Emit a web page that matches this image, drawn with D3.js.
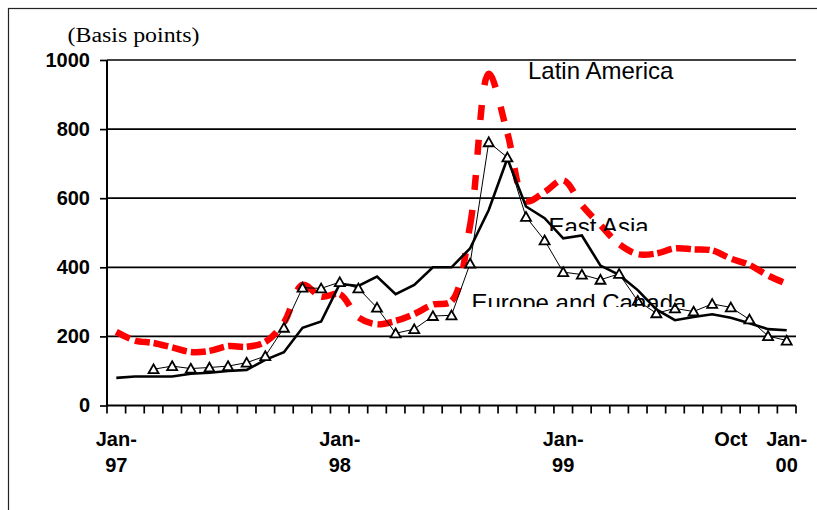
<!DOCTYPE html>
<html>
<head>
<meta charset="utf-8">
<script src="https://cdn.jsdelivr.net/npm/d3@7"></script>
<style>
  html, body { margin: 0; padding: 0; background: #fff; }
  svg { display: block; }
</style>
</head>
<body>
<svg id="chart" width="817" height="510"></svg>
<script>
const categories = ["Jan-97","Feb-97","Mar-97","Apr-97","May-97","Jun-97","Jul-97","Aug-97","Sep-97","Oct-97","Nov-97","Dec-97",
  "Jan-98","Feb-98","Mar-98","Apr-98","May-98","Jun-98","Jul-98","Aug-98","Sep-98","Oct-98","Nov-98","Dec-98",
  "Jan-99","Feb-99","Mar-99","Apr-99","May-99","Jun-99","Jul-99","Aug-99","Sep-99","Oct-99","Nov-99","Dec-99","Jan-00"];

const latinAmerica = [213,188,181,168,155,158,172,170,184,240,349,315,322,255,235,245,265,292,302,522,960,789,592,618,652,580,522,467,438,440,455,452,449,425,407,376,352];
const eastAsia = [80,84,84,84,92,95,100,103,132,154,225,243,352,346,373,322,349,400,400,455,566,715,576,542,484,492,405,378,334,278,247,256,264,254,238,221,218];
const europeCanada = [null,null,105,114,107,110,114,124,143,225,341,339,357,339,283,209,221,259,261,411,762,718,546,478,386,379,364,381,303,267,281,272,294,284,249,201,188];

const yTicks = [0,200,400,600,800,1000];
const tickCats = ["Jan-97","Jan-98","Jan-99","Oct-99","Jan-00"];
const tickLine1 = ["Jan-","Jan-","Jan-","Oct","Jan-"];
const tickLine2 = ["97","98","99","","00"];
const yUnit = "(Basis points)";
const seriesLabels = ["Latin America","East Asia","Europe and Canada"];

const svg = d3.select("#chart");
const pL = 107, pR = 796, pT = 60, pB = 405.5;

const x = d3.scaleBand().domain(categories).range([pL, pR]).padding(0);
const y = d3.scaleLinear().domain([0, 1000]).range([pB, pT]);
const cx = c => x(c) + x.bandwidth() / 2;

// outer frame
svg.append("rect").attr("x", 8.5).attr("y", 8.5).attr("width", 900).attr("height", 600)
  .attr("fill", "none").attr("stroke", "#222").attr("stroke-width", 1.2);

// gridlines
svg.append("g").selectAll("line").data(yTicks.filter(d => d > 0)).join("line")
  .attr("x1", pL).attr("x2", pR).attr("y1", d => y(d)).attr("y2", d => y(d))
  .attr("stroke", "#000").attr("stroke-width", 1.7);

// y axis
const yAxis = d3.axisLeft(y).tickValues(yTicks).tickSize(7).tickPadding(10).tickFormat(d3.format("d"));
const gy = svg.append("g").attr("transform", `translate(${pL},0)`).call(yAxis);
gy.select(".domain").attr("stroke", "#000").attr("stroke-width", 2).attr("d", `M0,${pB}V${pT}`);
gy.selectAll(".tick line").attr("stroke", "#000").attr("stroke-width", 1.7);
gy.selectAll(".tick text").attr("font-family", "'Liberation Sans', Arial, sans-serif")
  .attr("font-weight", "bold").attr("font-size", 20).attr("fill", "#000");

// x axis line and tick marks at category boundaries
const boundaries = categories.map(c => x(c)).concat([pR]);
svg.append("line").attr("x1", pL).attr("x2", pR).attr("y1", pB).attr("y2", pB)
  .attr("stroke", "#000").attr("stroke-width", 2);
svg.append("g").selectAll("line").data(boundaries).join("line")
  .attr("x1", d => d).attr("x2", d => d).attr("y1", pB).attr("y2", pB + 8)
  .attr("stroke", "#000").attr("stroke-width", 1.7);

// x labels
const xl = svg.append("g").attr("font-family", "'Liberation Sans', Arial, sans-serif")
  .attr("font-weight", "bold").attr("font-size", 20).attr("text-anchor", "middle");
tickCats.forEach((c, i) => {
  xl.append("text").attr("x", cx(c)).attr("y", 446).text(tickLine1[i]);
  if (tickLine2[i]) xl.append("text").attr("x", cx(c)).attr("y", 472).text(tickLine2[i]);
});

// unit label
svg.append("text").attr("x", 67.5).attr("y", 41.5)
  .attr("font-family", "'Liberation Serif', 'Times New Roman', serif").attr("font-size", 20)
  .attr("textLength", 132).attr("lengthAdjust", "spacingAndGlyphs").text(yUnit);

// Latin America (red dashed smooth), dash pattern restarting at each data point
const lineSmooth = d3.line().x((d, i) => cx(categories[i])).y(d => y(d)).curve(d3.curveCatmullRom.alpha(0.5));
const red = svg.append("path").datum(latinAmerica).attr("d", lineSmooth)
  .attr("fill", "none").attr("stroke", "#ff0000").attr("stroke-width", 6.5);
(function () {
  const node = red.node();
  const total = node.getTotalLength();
  const lenAtX = px => {
    let lo = 0, hi = total;
    for (let k = 0; k < 40; k++) {
      const mid = (lo + hi) / 2;
      if (node.getPointAtLength(mid).x < px) lo = mid; else hi = mid;
    }
    return (lo + hi) / 2;
  };
  const Ls = categories.map((c, i) => i === 0 ? 0 : (i === categories.length - 1 ? total : lenAtX(cx(c))));
  const D = 15, G = 20;
  const arr = [];
  for (let k = 0; k < Ls.length - 1; k++) {
    const L = Ls[k + 1] - Ls[k];
    let pos = 0;
    while (pos < L - 0.01) {
      const d = Math.min(D, L - pos); arr.push(d); pos += d;
      const g = Math.min(G, L - pos); arr.push(g); pos += g;
    }
  }
  red.attr("stroke-dasharray", arr.map(v => v.toFixed(2)).join(","));
})();

// East Asia (thick black)
const lineStraight = d3.line().defined(d => d != null).x((d, i) => cx(categories[i])).y(d => y(d));
svg.append("path").datum(eastAsia).attr("d", lineStraight)
  .attr("fill", "none").attr("stroke", "#000").attr("stroke-width", 2.6).attr("stroke-linejoin", "miter");

// Europe and Canada (thin with triangles)
svg.append("path").datum(europeCanada).attr("d", lineStraight)
  .attr("fill", "none").attr("stroke", "#000").attr("stroke-width", 1);
const eu = europeCanada.map((v, i) => ({v, c: categories[i]})).filter(d => d.v != null);
svg.append("g").selectAll("path").data(eu).join("path")
  .attr("transform", d => `translate(${cx(d.c)},${y(d.v)})`)
  .attr("d", "M0,-4.8L5,4L-5,4Z")
  .attr("fill", "#fff").attr("stroke", "#000").attr("stroke-width", 1.8);

// series labels
const defs = svg.append("defs");
defs.append("clipPath").attr("id", "clipEA").append("rect").attr("x", 0).attr("y", 0).attr("width", 817).attr("height", 231);
defs.append("clipPath").attr("id", "clipEU").append("rect").attr("x", 0).attr("y", 0).attr("width", 817).attr("height", 307);
const lab = svg.append("g").attr("font-family", "'Liberation Sans', Arial, sans-serif").attr("font-size", 24).attr("fill", "#000");
lab.append("text").attr("x", 528).attr("y", 79).text(seriesLabels[0]);
lab.append("text").attr("x", 548.5).attr("y", 234.5).attr("clip-path", "url(#clipEA)").text(seriesLabels[1]);
lab.append("text").attr("x", 471.5).attr("y", 310.5).attr("clip-path", "url(#clipEU)").text(seriesLabels[2]);
</script>
</body>
</html>
